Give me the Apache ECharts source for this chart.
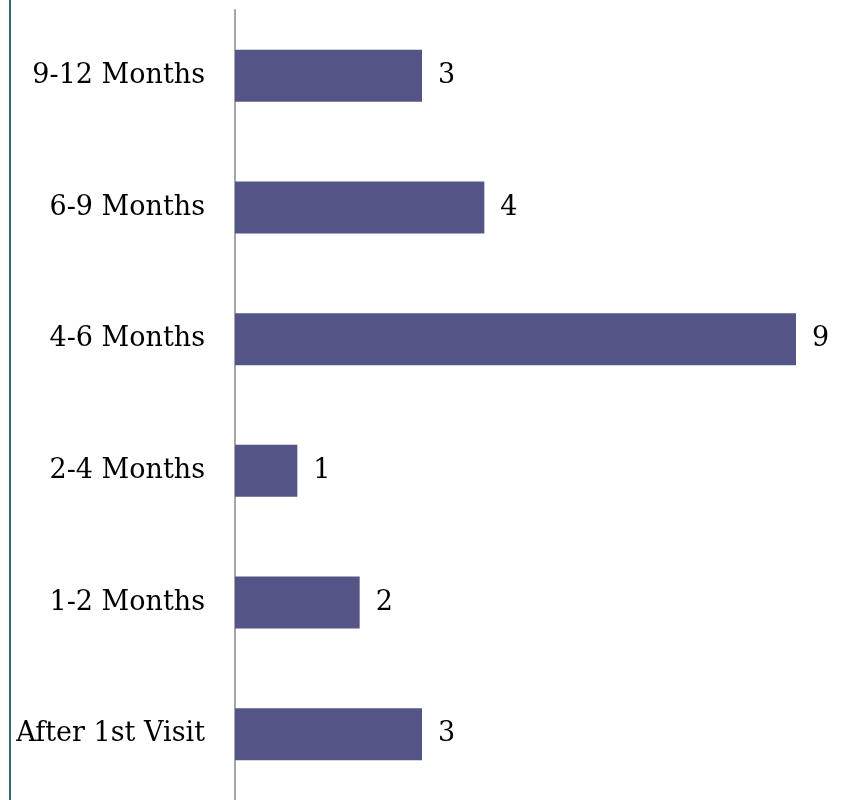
<!DOCTYPE html>
<html>
<head>
<meta charset="utf-8">
<style>
  html, body { margin: 0; padding: 0; background: #fff; }
  #chart { width: 842px; height: 800px; }
</style>
<script src="https://cdn.jsdelivr.net/npm/echarts@6/dist/echarts.min.js"></script>
</head>
<body>
<div id="chart"></div>
<script>
// categories bottom -> top
const categories = ['After 1st Visit', '1-2 Months', '2-4 Months', '4-6 Months', '6-9 Months', '9-12 Months'];
const counts = [3, 2, 1, 9, 4, 3];

const chart = echarts.init(document.getElementById('chart'));

const font = 'DejaVu Serif';

chart.setOption({
  animation: false,
  grid: { left: 235, right: 46, top: 10, bottom: 0, containLabel: false },
  xAxis: {
    type: 'value',
    min: 0,
    max: 9,
    show: false
  },
  yAxis: {
    type: 'category',
    data: categories,
    axisLine: { show: true, lineStyle: { color: '#a6a6a6', width: 2 } },
    axisTick: { show: false },
    axisLabel: { color: '#000', fontFamily: font, fontSize: 27, margin: 30 }
  },
  series: [{
    type: 'bar',
    data: counts,
    barWidth: 52,
    itemStyle: { color: '#545587' },
    label: {
      show: true,
      position: 'right',
      distance: 16,
      color: '#000',
      fontFamily: font,
      fontSize: 27
    }
  }],
  graphic: [{
    type: 'rect',
    shape: { x: 9, y: 0, width: 2, height: 800 },
    style: { fill: '#2e6b6e' }
  }]
});
</script>
</body>
</html>
